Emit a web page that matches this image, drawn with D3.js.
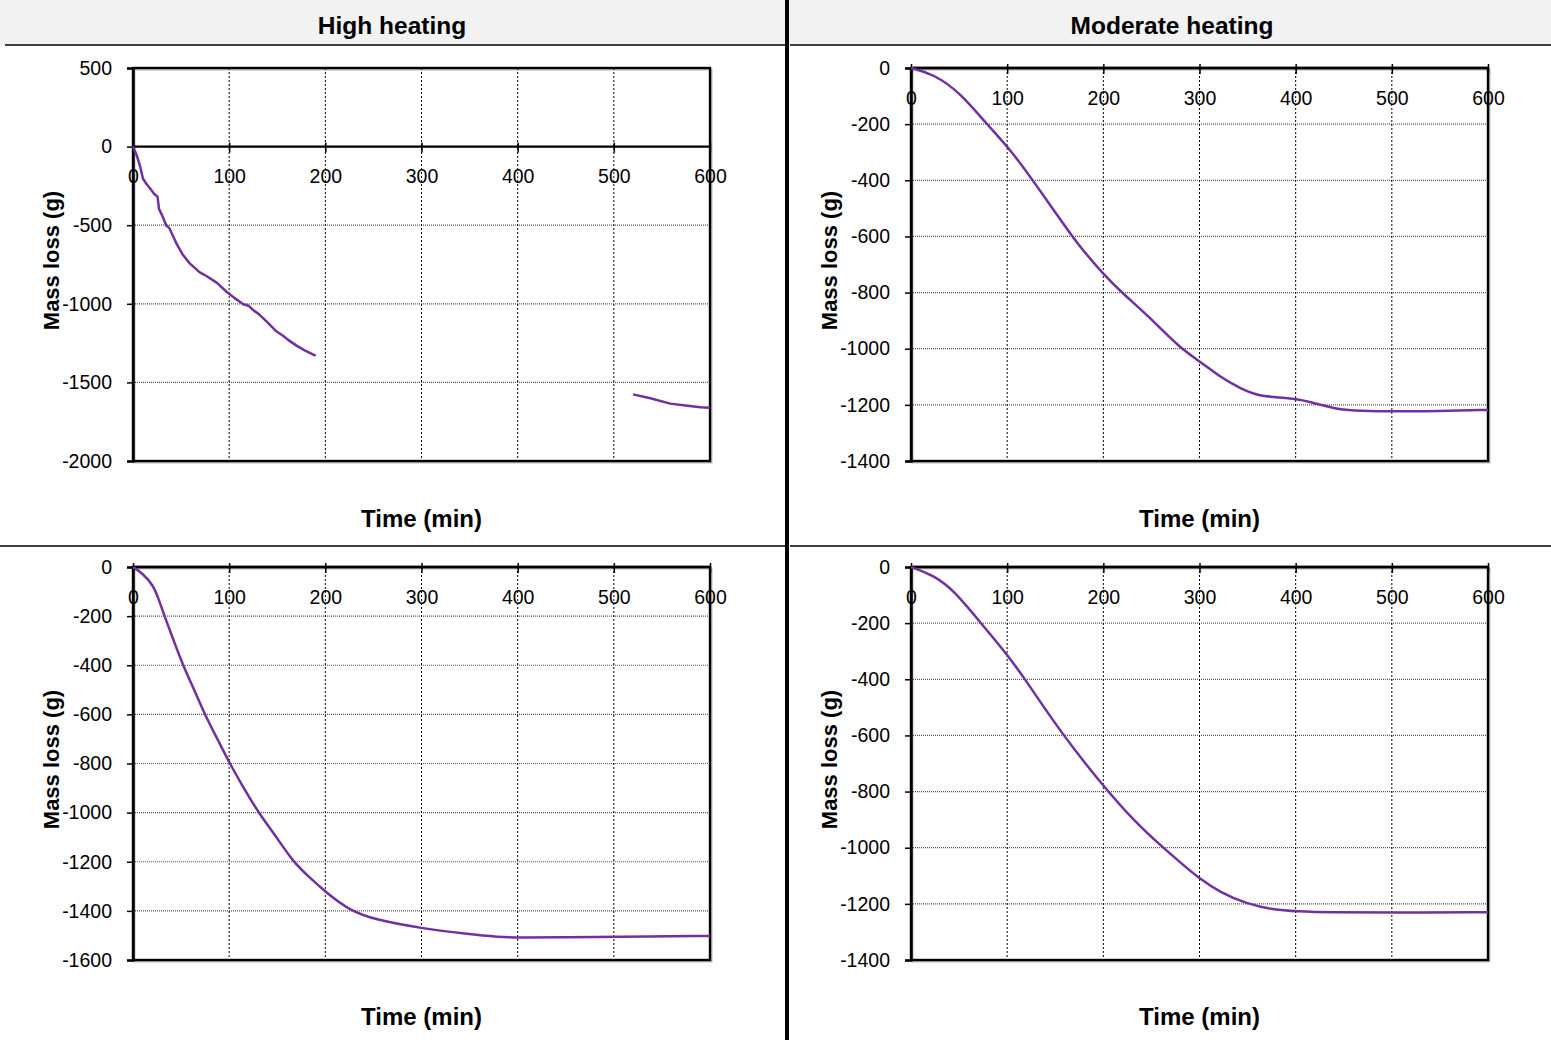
<!DOCTYPE html>
<html>
<head>
<meta charset="utf-8">
<script src="https://cdn.jsdelivr.net/npm/d3@7"></script>
<style>
  html, body { margin: 0; padding: 0; background: #fff; }
  svg { display: block; }
  text { font-family: "Liberation Sans", Arial, sans-serif; fill: #000; }
</style>
</head>
<body>
<svg id="chart" width="1551" height="1040"></svg>
<script>
// ---------- DATA ----------
const columnTitles = ["High heating", "Moderate heating"];
const xLabel = "Time (min)";
const yLabel = "Mass loss (g)";
const xTicks = [0, 100, 200, 300, 400, 500, 600];

const yTicksHighTop = [500, 0, -500, -1000, -1500, -2000];
const yTicksModTop  = [0, -200, -400, -600, -800, -1000, -1200, -1400];
const yTicksHighBot = [0, -200, -400, -600, -800, -1000, -1200, -1400, -1600];
const yTicksModBot  = [0, -200, -400, -600, -800, -1000, -1200, -1400];

// High heating, top (gap in recording between ~190 and ~520 min)
const highTopTime = [0, 4, 7.6, 10.4, 13.9, 18, 22.5, 24, 25.5, 27, 31, 34.7, 36, 38, 45.4, 52, 59, 69.4, 76.3, 87, 97, 105.7, 114.7, 120, 124.7, 131.7, 140.4, 149, 156, 161, 170, 178.5, 187.5, 190,
                     350,
                     520, 538, 558.6, 579, 590, 600];
const highTopMass = [0, -57, -131, -205, -236, -268, -304, -310, -318, -395, -447, -504, -508, -521, -619, -690, -743, -800, -823, -865, -922, -964, -1003, -1012, -1038, -1070, -1122, -1175, -1203, -1228, -1266, -1296, -1323, -1330,
                     null,
                     -1576, -1601, -1635, -1650, -1658, -1661];

// Moderate heating, top
const modTopTime = [0, 23, 51, 78.7, 103, 127, 151.5, 172, 200, 221, 245, 279, 300, 321, 342, 361, 384, 401, 415, 439, 460, 490, 550, 600];
const modTopMass = [0, -21, -87, -200, -289, -402, -521, -622, -735, -806, -877, -996, -1044, -1100, -1141, -1169, -1173, -1180, -1189, -1213, -1221, -1224, -1222, -1218];

// High heating, bottom
const highBotTime = [0, 10.4, 20.8, 26, 33, 41.6, 52, 64, 74.6, 88.4, 100.6, 114.4, 130, 149, 166.4, 183, 200, 225.4, 253, 300, 347, 381, 400, 451, 500, 600];
const highBotMass = [0, -27, -74, -122, -203, -292, -401, -502, -600, -705, -800, -895, -998, -1098, -1200, -1262, -1322, -1399, -1437, -1471, -1494, -1507, -1509, -1508, -1505, -1502];

// Moderate heating, bottom
const modBotTime = [0, 23, 44, 71.7, 99.5, 118.5, 137.6, 158.4, 181, 203.6, 231, 260.7, 283, 300, 321, 349, 377, 400, 436, 500, 600];
const modBotMass = [0, -29, -81, -196, -309, -399, -497, -598, -699, -794, -901, -996, -1061, -1110, -1158, -1200, -1221, -1227, -1231, -1231, -1230];

// ---------- DRAW ----------
const svg = d3.select("#chart");
const lineColor = "#7030a0";
const tickFont = 19.5;

// header band
svg.append("rect").attr("x", 0).attr("y", 0).attr("width", 1551).attr("height", 45).attr("fill", "#f2f2f2");
svg.append("line").attr("x1", 5).attr("x2", 785).attr("y1", 45).attr("y2", 45).attr("stroke", "#000").attr("stroke-width", 1.5);
svg.append("line").attr("x1", 790).attr("x2", 1551).attr("y1", 45).attr("y2", 45).attr("stroke", "#000").attr("stroke-width", 1.5);
svg.append("line").attr("x1", 0).attr("x2", 785).attr("y1", 546).attr("y2", 546).attr("stroke", "#000").attr("stroke-width", 1.5);
svg.append("line").attr("x1", 790).attr("x2", 1551).attr("y1", 546).attr("y2", 546).attr("stroke", "#000").attr("stroke-width", 1.5);
svg.append("line").attr("x1", 787).attr("x2", 787).attr("y1", 0).attr("y2", 1040).attr("stroke", "#000").attr("stroke-width", 4);

svg.append("text").attr("x", 392).attr("y", 25).attr("text-anchor", "middle").attr("dominant-baseline", "central")
  .attr("font-size", 24.5).attr("font-weight", "bold").text(columnTitles[0]);
svg.append("text").attr("x", 1172).attr("y", 25).attr("text-anchor", "middle").attr("dominant-baseline", "central")
  .attr("font-size", 24.5).attr("font-weight", "bold").text(columnTitles[1]);

function panel(opts) {
  const {x0, x1, y0, y1, yTicks, times, masses, titleY, curve} = opts;
  const x = d3.scaleLinear().domain([0, 600]).range([x0, x1]);
  const y = d3.scaleLinear().domain([d3.max(yTicks), d3.min(yTicks)]).range([y0, y1]);
  const g = svg.append("g");

  // shadow
  g.append("rect").attr("x", x0 + 1.5).attr("y", y0 + 1.5).attr("width", x1 - x0).attr("height", y1 - y0)
    .attr("fill", "none").attr("stroke", "#bbb").attr("stroke-width", 2);

  // horizontal grid
  g.append("g").selectAll("line").data(yTicks.filter(v => v !== 0 && v !== d3.max(yTicks) && v !== d3.min(yTicks)))
    .join("line").attr("x1", x0).attr("x2", x1).attr("y1", d => y(d)).attr("y2", d => y(d))
    .attr("stroke", "#555").attr("stroke-width", 1.2).attr("stroke-dasharray", "1,1");
  // vertical grid
  g.append("g").selectAll("line").data(xTicks.filter(v => v !== 0 && v !== 600))
    .join("line").attr("x1", d => x(d)).attr("x2", d => x(d)).attr("y1", y0).attr("y2", y1)
    .attr("stroke", "#000").attr("stroke-width", 1).attr("stroke-dasharray", "2,2");

  // frame
  g.append("rect").attr("x", x0).attr("y", y0).attr("width", x1 - x0).attr("height", y1 - y0)
    .attr("fill", "none").attr("stroke", "#000").attr("stroke-width", 2.4);

  // y axis
  const ya = g.append("g").attr("transform", `translate(${x0},0)`)
    .call(d3.axisLeft(y).tickValues(yTicks).tickSize(6).tickPadding(15).tickFormat(d => String(d)));
  ya.select(".domain").attr("stroke-width", 2.4);
  ya.selectAll(".tick line").attr("stroke-width", 1.5);
  ya.selectAll("text").attr("font-size", tickFont).attr("font-family", "'Liberation Sans', Arial, sans-serif");

  // x axis at zero line
  const zy = y(0);
  g.append("line").attr("x1", x0).attr("x2", x1).attr("y1", zy).attr("y2", zy).attr("stroke", "#000").attr("stroke-width", 2.4);
  const xa = g.append("g").attr("transform", `translate(0,${zy})`)
    .call(d3.axisBottom(x).tickValues(xTicks).tickSize(6).tickPadding(17).tickFormat(d => String(d)));
  xa.select(".domain").remove();
  xa.selectAll(".tick line").attr("y1", -4).attr("y2", 6).attr("stroke-width", 1.5);
  xa.selectAll("text").attr("font-size", tickFont).attr("font-family", "'Liberation Sans', Arial, sans-serif");

  // data line
  const pts = times.map((t, i) => ({t, m: masses[i]}));
  const line = d3.line().defined(d => d.m !== null).x(d => x(d.t)).y(d => y(d.m)).curve(curve);
  g.append("path").datum(pts).attr("d", line).attr("fill", "none")
    .attr("stroke", lineColor).attr("stroke-width", 2.5).attr("stroke-linejoin", "round");

  // titles
  const cx = (x0 + x1) / 2, cy = (y0 + y1) / 2;
  g.append("text").attr("x", cx).attr("y", titleY).attr("text-anchor", "middle").attr("dominant-baseline", "central")
    .attr("font-size", 24).attr("font-weight", "bold").text(xLabel);
  g.append("text").attr("transform", `translate(${x0 - 82},${cy - 4}) rotate(-90)`).attr("text-anchor", "middle")
    .attr("dominant-baseline", "central").attr("font-size", 22).attr("font-weight", "bold").text(yLabel);
}

panel({x0: 133, x1: 710, y0: 68, y1: 461, yTicks: yTicksHighTop, times: highTopTime, masses: highTopMass, titleY: 518, curve: d3.curveLinear});
panel({x0: 911, x1: 1488, y0: 68, y1: 461, yTicks: yTicksModTop, times: modTopTime, masses: modTopMass, titleY: 518, curve: d3.curveBasis});
panel({x0: 133, x1: 710, y0: 567, y1: 960, yTicks: yTicksHighBot, times: highBotTime, masses: highBotMass, titleY: 1016, curve: d3.curveBasis});
panel({x0: 911, x1: 1488, y0: 567, y1: 960, yTicks: yTicksModBot, times: modBotTime, masses: modBotMass, titleY: 1016, curve: d3.curveBasis});
</script>
</body>
</html>
